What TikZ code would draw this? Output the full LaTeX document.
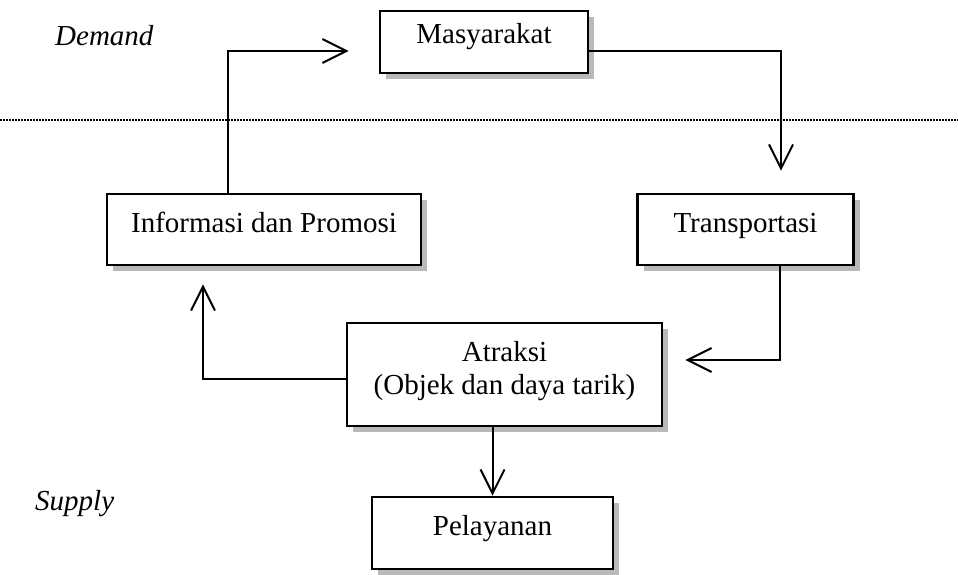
\documentclass[tikz,border=0pt]{standalone}
\usepackage{fontspec}
\setmainfont{Liberation Serif}
\usetikzlibrary{arrows.meta,shadows,calc}
\begin{document}
\begin{tikzpicture}[x=1pt,y=-1pt,
  box/.style={draw, line width=2.6pt, fill=white, inner xsep=0pt, inner ysep=0pt,
    font=\fontsize{29}{33}\selectfont,
    drop shadow={shadow xshift=6pt, shadow yshift=-6pt, fill=gray!55, opacity=1}},
  conn/.style={line width=2pt, -{Straight Barb[length=24pt,width=24pt,line width=2pt]}},
  side/.style={font=\fontsize{29}{33}\selectfont\itshape, inner sep=0pt, anchor=base west}]
\useasboundingbox (0,0) rectangle (958,574);
\fill[white] (0,0) rectangle (958,574);

\draw[line width=1.5pt, dash pattern=on 1.5pt off 1.5pt] (0,120) -- (958,120);

\node[side] (dem) at (55,45) {Demand};
\node[side] (sup) at (35,510) {Supply};

\node[box, minimum width=208pt, minimum height=62pt, text height=32pt, text depth=30pt] (masy) at (484,42) {Masyarakat};
\node[box, minimum width=216pt, minimum height=71pt, text height=38pt, text depth=33pt] (trans) at (745.5,229.5) {Transportasi};
\node[box, minimum width=314pt, minimum height=71pt, text height=38pt, text depth=33pt] (info) at (264,229.5) {Informasi dan Promosi};
\node[box, minimum width=315pt, minimum height=103pt, align=center] (atr) at (504.5,374.5) {Atraksi\\(Objek dan daya tarik)\rule[-14pt]{0pt}{0pt}};
\node[box, minimum width=241pt, minimum height=72pt, text height=38pt, text depth=34pt] (pel) at (492.5,533) {Pelayanan};

\draw[conn, shorten >=30pt] ([xshift=-36pt]info.north) |- ([yshift=-9pt]masy.west);
\draw[conn, shorten >=22pt] ([yshift=-9pt]masy.east) -| ([xshift=35.5pt]trans.north);
\draw[conn, shorten >=22pt] ([xshift=34.5pt]trans.south) |- ([yshift=14.5pt]atr.east);
\draw[conn, shorten >=18pt] ([yshift=-4.5pt]atr.west) -| ([xshift=-61pt]info.south);
\draw[conn] (atr.south -| pel.north) -- (pel.north);
\end{tikzpicture}
\end{document}
